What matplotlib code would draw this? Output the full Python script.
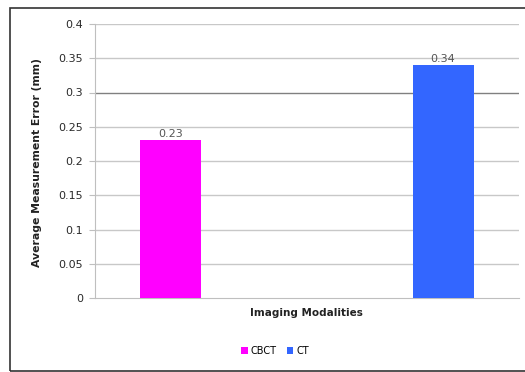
import matplotlib
matplotlib.use('Agg')
import matplotlib.pyplot as plt
from matplotlib.patches import Rectangle

# average measurement error per modality (mm)
modalities = ['CBCT', 'CT']
errors = [0.23, 0.34]
colors = ['#ff00ff', '#3366ff']
yticks = [0, 0.05, 0.1, 0.15, 0.2, 0.25, 0.3, 0.35, 0.4]
ytick_labels = ['0', '0.05', '0.1', '0.15', '0.2', '0.25', '0.3', '0.35', '0.4']

plt.rcParams['font.family'] = ['DejaVu Sans']

fig = plt.figure(figsize=(5.25, 3.72), dpi=100)
ax = fig.add_axes([95/525, 1-298/372, 424/525, 274/372])

# outer chart frame (runs off the right edge)
fig.patches.append(Rectangle((10/525, 1/372), 1.1, 1-9/372, transform=fig.transFigure,
                             fill=False, edgecolor='#333333', linewidth=1.2))

xpos = [0.179, 0.821]
bars = ax.bar(xpos, errors, width=0.144, color=colors, label=modalities, zorder=3)
for x, v in zip(xpos, errors):
    ax.text(x, v + 0.002, '%.2f' % v, ha='center', va='bottom', fontsize=8, color='#555555')

ax.set_xlim(0, 1)
ax.set_ylim(0, 0.4)
ax.set_yticks(yticks)
ax.set_yticklabels(ytick_labels)
ax.set_xticks([])
for t in yticks[1:]:
    ax.axhline(t, color='#808080' if t == 0.3 else '#c8c8c8', linewidth=1, zorder=1)

for side in ['top', 'right']:
    ax.spines[side].set_visible(False)
ax.spines['left'].set_color('#bfbfbf')
ax.spines['bottom'].set_color('#bfbfbf')
ax.tick_params(axis='y', length=4.3, color='#bfbfbf', labelsize=8, labelcolor='#2a2a2a', pad=4.3)

fig.text(37.5/525, 1-163/372, 'Average Measurement Error (mm)', rotation=90, ha='center', va='center',
         fontsize=7.8, fontweight='bold', color='#222222')
fig.text(306/525, 1-313/372, 'Imaging Modalities', ha='center', va='center',
         fontsize=7.5, fontweight='bold', color='#222222')

fig.legend(handles=list(bars), labels=modalities, loc='center', bbox_to_anchor=(275/525, 1-351/372),
           ncol=2, frameon=False, fontsize=7, handlelength=0.7, handleheight=0.7,
           handletextpad=0.3, columnspacing=1.0)

fig.savefig('out.png', dpi=100)
